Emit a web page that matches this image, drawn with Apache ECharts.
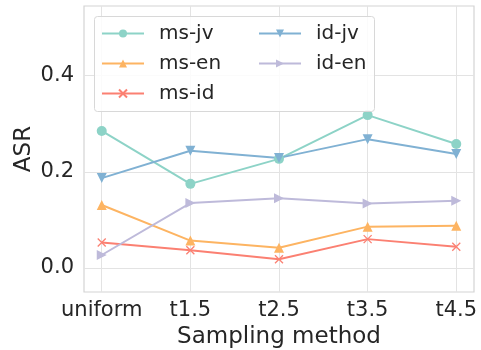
<!DOCTYPE html>
<html>
<head>
<meta charset="utf-8">
<script src="https://cdn.jsdelivr.net/npm/echarts@6/dist/echarts.min.js"></script>
<style>
  html, body { margin: 0; padding: 0; background: #fff; }
  #chart { width: 481px; height: 350px; }
</style>
</head>
<body>
<div id="chart"></div>
<script>
// categories on the x axis
var methods = ['uniform', 't1.5', 't2.5', 't3.5', 't4.5'];
var yTicks = [0, 0.2, 0.4];

// ASR values
var msJv = [0.285, 0.175, 0.227, 0.318, 0.258];
var msEn = [0.131, 0.057, 0.042, 0.086, 0.088];
var msId = [0.053, 0.037, 0.018, 0.060, 0.044];
var idJv = [0.187, 0.244, 0.229, 0.268, 0.237];
var idEn = [0.027, 0.135, 0.145, 0.134, 0.140];

var fontFamily = 'DejaVu Sans';
var textColor = '#262626';
var crossPath = 'path://M0,0L10,10M10,0L0,10';

function toPoints(values) {
  return values.map(function (v, i) { return [i, v]; });
}

function makeSeries(name, values, color, symbol, rotate, size) {
  var isCross = symbol === crossPath;
  return {
    name: name,
    type: 'line',
    data: toPoints(values),
    symbol: symbol,
    symbolSize: size,
    symbolRotate: rotate,
    showSymbol: true,
    lineStyle: { color: color, width: 2 },
    itemStyle: isCross
      ? { color: 'rgba(0,0,0,0)', borderColor: color, borderWidth: 1.3, opacity: 1 }
      : { color: color, borderColor: color, borderWidth: 0 },
    emphasis: { disabled: true },
    z: 3
  };
}

var chart = echarts.init(document.getElementById('chart'), null, {renderer: 'canvas'});

var legendText = { fontFamily: fontFamily, fontSize: 20, color: textColor, padding: [0, 0, 0, 10] };

var option = {
  animation: false,
  grid: {
    left: 84, right: 7, top: 6, bottom: 58,
    outerBoundsMode: 'none',
    containLabel: false,
    show: true,
    borderColor: '#d4d4d4',
    borderWidth: 1.2,
    backgroundColor: '#fff'
  },
  xAxis: {
    type: 'value',
    min: -0.2,
    max: 4.2,
    name: 'Sampling method',
    nameLocation: 'middle',
    nameGap: 34,
    nameMoveOverlap: false,
    nameTextStyle: { fontFamily: fontFamily, fontSize: 23, color: textColor },
    axisLine: { show: false },
    axisTick: { show: false, customValues: [0, 1, 2, 3, 4] },
    axisLabel: {
      customValues: [0, 1, 2, 3, 4],
      formatter: function (v) { return methods[Math.round(v)]; },
      fontFamily: fontFamily, fontSize: 21, color: textColor, margin: 8
    },
    splitLine: { show: true, lineStyle: { color: '#e3e3e3', width: 1 } }
  },
  yAxis: {
    type: 'value',
    min: -0.05,
    max: 0.545,
    name: 'ASR',
    nameLocation: 'middle',
    nameGap: 48,
    nameMoveOverlap: false,
    nameTextStyle: { fontFamily: fontFamily, fontSize: 23, color: textColor },
    axisLine: { show: false },
    axisTick: { show: false, customValues: yTicks },
    axisLabel: {
      customValues: yTicks,
      formatter: function (v) { return v.toFixed(1); },
      fontFamily: fontFamily, fontSize: 21, color: textColor, margin: 10
    },
    splitLine: { show: true, lineStyle: { color: '#e3e3e3', width: 1 } }
  },
  graphic: [{
    type: 'rect',
    left: 94, top: 16,
    shape: { width: 280, height: 95, r: 3 },
    style: { fill: 'rgba(255,255,255,0.85)', stroke: '#d8d8d8', lineWidth: 1 },
    z: 10
  }],
  legend: [
    {
      data: ['ms-jv', 'ms-en', 'ms-id'],
      orient: 'vertical',
      left: 96, top: 18.5,
      itemWidth: 42, itemHeight: 10,
      itemGap: 10,
      textStyle: legendText,
      z: 11
    },
    {
      data: ['id-jv', 'id-en'],
      orient: 'vertical',
      left: 253, top: 18.5,
      itemWidth: 42, itemHeight: 10,
      itemGap: 10,
      textStyle: legendText,
      z: 11
    }
  ],
  series: [
    makeSeries('ms-jv', msJv, '#8dd3c7', 'circle', 0, 10),
    makeSeries('ms-en', msEn, '#fdb462', 'triangle', 0, 10),
    makeSeries('ms-id', msId, '#fb8072', crossPath, 0, 8),
    makeSeries('id-jv', idJv, '#80b1d3', 'triangle', 180, 10),
    makeSeries('id-en', idEn, '#bebada', 'triangle', -90, 10)
  ]
};

chart.setOption(option);
</script>
</body>
</html>
